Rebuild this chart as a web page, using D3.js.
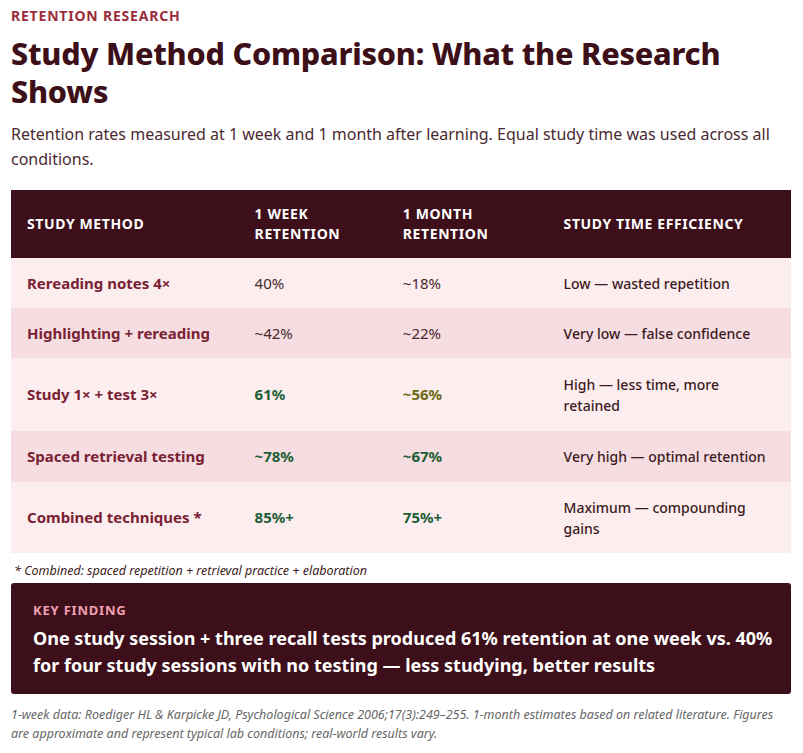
<!DOCTYPE html>
<html><head><meta charset="utf-8">
<script src="https://cdn.jsdelivr.net/npm/d3@7"></script>
<style>
body{margin:0;background:#fff;font-family:"Noto Sans",sans-serif;color:#3d1019;}
#wrap{position:relative;width:803px;height:753px;}
.eyebrow{position:absolute;left:11px;top:6px;font-size:14px;font-weight:700;letter-spacing:0.8px;color:#9b2c3c;}
h1{position:absolute;left:11px;top:34px;margin:0;width:780px;font-size:30.5px;line-height:38px;font-weight:800;color:#3d1019;letter-spacing:-0.2px}
.sub{position:absolute;left:11px;top:122px;width:775px;font-size:16px;line-height:25px;color:#4a2a30;}
table{position:absolute;left:11px;top:190px;width:780px;border-collapse:collapse;}
th{background:#3d0f1b;color:#fff;font-size:14px;font-weight:700;letter-spacing:0.6px;text-align:left;line-height:20px;padding:0 0 0 16px;height:68px;}
td{font-size:15px;padding:0 0 0 16px;line-height:21px;}
td.m{font-weight:700;color:#7a2233;}
td.e{font-size:14px;font-weight:500;color:#3d1a22;}
.note{position:absolute;left:14px;top:562px;font-size:12.5px;font-style:italic;color:#3d1a22;}
.kf{position:absolute;left:11px;top:583px;width:780px;height:111px;background:#3d0f1b;border-radius:3px;}
.kf .l{position:absolute;left:22px;top:18px;font-size:13px;font-weight:700;letter-spacing:0.8px;color:#f0a0b0;}
.kf .t{position:absolute;left:22px;top:42px;width:740px;font-size:18px;font-weight:700;line-height:27px;color:#fff;}
.src{position:absolute;left:11px;top:705px;width:770px;font-size:12.5px;font-style:italic;line-height:19px;color:#666;}
</style></head><body><div id="wrap"></div>
<script>
const headers=["STUDY METHOD","1 WEEK RETENTION","1 MONTH RETENTION","STUDY TIME EFFICIENCY"];
const methods=["Rereading notes 4×","Highlighting + rereading","Study 1× + test 3×","Spaced retrieval testing","Combined techniques *"];
const week=["40%","~42%","61%","~78%","85%+"];
const month=["~18%","~22%","~56%","~67%","75%+"];
const efficiency=["Low — wasted repetition","Very low — false confidence","High — less time, more retained","Very high — optimal retention","Maximum — compounding gains"];
const weekStyle=["plain","plain","good","good","good"];
const monthStyle=["plain","plain","mid","good","good"];
const rowH=[50,50,73,51,71];
const colW=[234,141,156,249];
const styles={plain:{c:"#4a2a30",w:400},good:{c:"#1e5e35",w:700},mid:{c:"#6b6a12",w:700}};

const w=d3.select("#wrap");
w.append("div").attr("class","eyebrow").text("RETENTION RESEARCH");
w.append("h1").text("Study Method Comparison: What the Research Shows");
w.append("div").attr("class","sub").text("Retention rates measured at 1 week and 1 month after learning. Equal study time was used across all conditions.");
const t=w.append("table");
const hr=t.append("tr");
hr.selectAll("th").data(headers).join("th").style("width",(d,i)=>colW[i]+"px").html((d,i)=>i==1?"1 WEEK<br>RETENTION":i==2?"1 MONTH<br>RETENTION":d);
const rows=t.selectAll("tr.r").data(methods).join("tr").attr("class","r")
 .style("height",(d,i)=>rowH[i]+"px").style("background",(d,i)=>i%2?"#f5dde1":"#fcedef");
rows.append("td").attr("class","m").text(d=>d);
rows.append("td").text((d,i)=>week[i]).style("color",(d,i)=>styles[weekStyle[i]].c).style("font-weight",(d,i)=>styles[weekStyle[i]].w);
rows.append("td").text((d,i)=>month[i]).style("color",(d,i)=>styles[monthStyle[i]].c).style("font-weight",(d,i)=>styles[monthStyle[i]].w);
rows.append("td").attr("class","e").style("padding-right","20px").text((d,i)=>efficiency[i]);
w.append("div").attr("class","note").text("* Combined: spaced repetition + retrieval practice + elaboration");
const kf=w.append("div").attr("class","kf");
kf.append("div").attr("class","l").text("KEY FINDING");
kf.append("div").attr("class","t").text("One study session + three recall tests produced 61% retention at one week vs. 40% for four study sessions with no testing — less studying, better results");
w.append("div").attr("class","src").text("1-week data: Roediger HL & Karpicke JD, Psychological Science 2006;17(3):249–255. 1-month estimates based on related literature. Figures are approximate and represent typical lab conditions; real-world results vary.");
</script></body></html>
